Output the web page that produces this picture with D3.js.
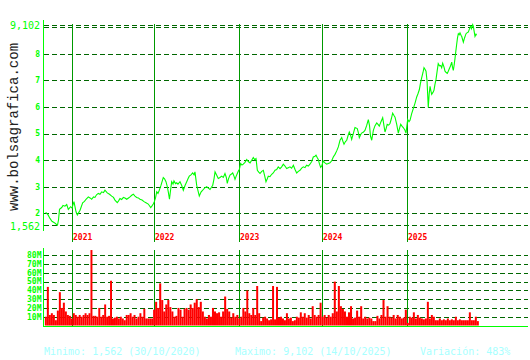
<!DOCTYPE html>
<html>
<head>
<meta charset="utf-8">
<script src="https://cdn.jsdelivr.net/npm/d3@7"></script>
<style>
  body { margin: 0; background: #fff; }
  svg { display: block; }
  text { font-family: "DejaVu Sans Mono", "Liberation Mono", monospace; }
</style>
</head>
<body>
<div id="chart"></div>
<script>
// price series (decimal year, value)
var priceYears = [
  2020.686, 2020.713, 2020.737, 2020.761, 2020.785, 2020.809, 2020.827, 2020.839, 2020.851, 2020.877,
  2020.893, 2020.916, 2020.937, 2020.956, 2020.984, 2021.000,
  2021.024, 2021.049, 2021.065, 2021.098, 2021.130, 2021.152, 2021.171, 2021.199, 2021.220, 2021.240,
  2021.262, 2021.280, 2021.299, 2021.321, 2021.341, 2021.362, 2021.384, 2021.402, 2021.430, 2021.457,
  2021.484, 2021.506, 2021.524, 2021.552, 2021.570, 2021.585, 2021.606, 2021.626, 2021.646, 2021.667,
  2021.689, 2021.707, 2021.728, 2021.748, 2021.768, 2021.789, 2021.809, 2021.829, 2021.854, 2021.878,
  2021.902, 2021.930, 2021.960, 2021.976, 2021.991,
  2022.004, 2022.018, 2022.032, 2022.047, 2022.062, 2022.082, 2022.109, 2022.124, 2022.141, 2022.157,
  2022.168, 2022.182, 2022.194, 2022.208, 2022.224, 2022.235, 2022.253, 2022.267, 2022.282, 2022.306,
  2022.326, 2022.345, 2022.365, 2022.385, 2022.400, 2022.415, 2022.435, 2022.455, 2022.471, 2022.482,
  2022.502, 2022.518, 2022.533, 2022.553, 2022.573, 2022.594, 2022.620, 2022.639, 2022.659, 2022.676,
  2022.691, 2022.706, 2022.718, 2022.735, 2022.756, 2022.776, 2022.796, 2022.815, 2022.835, 2022.851,
  2022.862, 2022.876, 2022.894, 2022.912, 2022.926, 2022.941, 2022.953, 2022.967, 2022.980, 2022.994,
  2023.004, 2023.020, 2023.036, 2023.052, 2023.072, 2023.093, 2023.112, 2023.133, 2023.153, 2023.172,
  2023.189, 2023.205, 2023.221, 2023.238, 2023.253, 2023.274, 2023.293, 2023.310, 2023.325, 2023.341,
  2023.353, 2023.373, 2023.394, 2023.413, 2023.434, 2023.454, 2023.473, 2023.494, 2023.514, 2023.534,
  2023.554, 2023.574, 2023.594, 2023.614, 2023.634, 2023.655, 2023.675, 2023.695, 2023.715, 2023.735,
  2023.755, 2023.775, 2023.795, 2023.815, 2023.835, 2023.855, 2023.876, 2023.895, 2023.916, 2023.928,
  2023.942, 2023.955, 2023.970, 2023.984, 2023.996,
  2024.015, 2024.035, 2024.055, 2024.074, 2024.094, 2024.114, 2024.133, 2024.153, 2024.173, 2024.192,
  2024.212, 2024.232, 2024.247, 2024.259, 2024.276, 2024.291, 2024.306, 2024.321, 2024.335, 2024.349,
  2024.368, 2024.388, 2024.415, 2024.427, 2024.439, 2024.453, 2024.466, 2024.485, 2024.505, 2024.525,
  2024.545, 2024.559, 2024.571, 2024.585, 2024.604, 2024.624, 2024.644, 2024.659, 2024.674, 2024.694,
  2024.714, 2024.729, 2024.741, 2024.755, 2024.767, 2024.784, 2024.800, 2024.815, 2024.831, 2024.847,
  2024.859, 2024.879, 2024.898, 2024.912, 2024.926, 2024.941, 2024.956, 2024.973, 2024.988,
  2025.008, 2025.024, 2025.036, 2025.056, 2025.075, 2025.096, 2025.116, 2025.131, 2025.147, 2025.161,
  2025.175, 2025.191, 2025.203, 2025.215, 2025.227, 2025.239, 2025.248, 2025.254, 2025.265, 2025.275,
  2025.286, 2025.295, 2025.310, 2025.322, 2025.334, 2025.346, 2025.360, 2025.373, 2025.388, 2025.402,
  2025.414, 2025.426, 2025.442, 2025.454, 2025.468, 2025.481, 2025.493, 2025.505, 2025.520, 2025.534,
  2025.543, 2025.553, 2025.564, 2025.573, 2025.583, 2025.594, 2025.603, 2025.613, 2025.624, 2025.633,
  2025.645, 2025.653, 2025.663, 2025.673, 2025.687, 2025.705, 2025.719, 2025.732, 2025.747, 2025.761,
  2025.770, 2025.784, 2025.792, 2025.802, 2025.812, 2025.824, 2025.832
];
var priceValues = [
  2.04, 1.95, 1.81, 1.70, 1.66, 1.60, 1.562, 1.75, 2.15, 2.22,
  2.30, 2.27, 2.33, 2.15, 2.25, 2.20,
  2.44, 2.06, 1.94, 2.12, 2.40, 2.45, 2.53, 2.62, 2.58, 2.53,
  2.62, 2.60, 2.70, 2.75, 2.72, 2.81, 2.78, 2.87, 2.77, 2.72,
  2.65, 2.60, 2.50, 2.40, 2.48, 2.56, 2.52, 2.60, 2.58, 2.53,
  2.58, 2.62, 2.68, 2.72, 2.65, 2.60, 2.58, 2.53, 2.50, 2.44,
  2.40, 2.35, 2.22, 2.28, 2.35,
  2.44, 2.58, 2.81, 2.75, 2.87, 3.05, 3.35, 3.30, 3.19, 3.00,
  2.81, 2.53, 2.85, 3.19, 3.10, 3.22, 3.12, 3.15, 3.10, 3.19,
  3.05, 2.87, 3.05, 3.19, 3.30, 3.40, 3.45, 3.52, 3.45, 3.56,
  3.06, 2.85, 2.65, 2.80, 2.87, 2.95, 3.00, 2.95, 2.90, 2.98,
  3.06, 3.30, 3.56, 3.45, 3.31, 3.35, 3.40, 3.35, 3.50, 3.35,
  3.13, 3.30, 3.44, 3.48, 3.52, 3.40, 3.28, 3.40, 3.50, 3.60,
  3.65, 3.88, 3.82, 3.85, 3.92, 4.03, 3.95, 3.90, 4.00, 4.10,
  4.02, 4.06, 3.62, 3.55, 3.50, 3.58, 3.62, 3.40, 3.19, 3.30,
  3.40, 3.38, 3.47, 3.52, 3.62, 3.65, 3.75, 3.68, 3.75, 3.85,
  3.78, 3.69, 3.72, 3.75, 3.70, 3.81, 3.65, 3.52, 3.58, 3.62,
  3.70, 3.75, 3.72, 3.81, 3.78, 3.85, 3.95, 4.12, 4.15, 4.19,
  4.10, 4.03, 3.85, 3.73, 3.78,
  3.97, 3.90, 3.85, 3.88, 3.90, 3.98, 4.12, 4.22, 4.35, 4.50,
  4.75, 4.85, 4.70, 4.60, 4.70, 4.75, 4.92, 5.06, 4.95, 4.78,
  5.00, 5.23, 5.19, 5.05, 4.85, 4.95, 5.02, 5.05, 5.12, 5.30,
  5.53, 5.30, 4.90, 4.75, 5.12, 5.30, 5.40, 5.35, 5.28, 5.45,
  5.60, 5.30, 5.06, 5.20, 5.35, 5.32, 5.38, 5.55, 5.77, 5.68,
  5.62, 5.35, 5.02, 5.20, 5.35, 5.28, 5.23, 5.15, 5.02,
  5.53, 5.45, 5.50, 5.75, 5.94, 6.15, 6.38, 6.50, 6.65, 6.90,
  7.10, 7.30, 7.48, 7.42, 7.35, 7.00, 6.40, 5.98, 6.50, 6.78,
  6.60, 6.48, 6.55, 6.63, 6.85, 7.03, 7.35, 7.63, 7.55, 7.56,
  7.48, 7.65, 7.50, 7.35, 7.30, 7.27, 7.35, 7.44, 7.55, 7.69,
  7.50, 7.38, 7.60, 7.82, 8.10, 8.38, 8.60, 8.76, 8.72, 8.79,
  8.70, 8.66, 8.55, 8.44, 8.60, 8.76, 8.80, 8.82, 8.95, 9.04,
  8.95, 9.102, 9.04, 8.85, 8.66, 8.74, 8.70
];

// volume, millions, one bar per period starting at volStart
var volStart = 2020.676;
var volStep = 0.02388;
var volumes = [
  10, 44, 12, 14, 12, 6, 17, 38, 20, 26, 16, 12, 11, 8, 14, 12, 10, 12, 10, 12,
  14, 12, 14, 86, 11, 11, 10, 20, 10, 12, 24, 10, 11, 51, 8, 9, 10, 8, 10, 8,
  6, 12, 12, 14, 10, 12, 8, 10, 14, 10, 19, 8, 8, 8, 8, 18, 27, 20, 48, 29,
  16, 24, 29, 21, 16, 10, 11, 20, 18, 10, 19, 20,
  18, 24, 20, 26, 30, 21, 27, 16, 10, 8, 12, 10, 20, 16, 14, 15, 10, 16, 33, 19,
  16, 9, 14, 10, 12, 8, 10, 20, 16, 40, 14, 12, 20, 12, 45, 14, 5, 9, 10, 8,
  6, 7, 45, 7, 44, 9, 10, 8, 6, 14, 8, 9, 5, 6, 10, 9, 15, 10, 14, 9,
  12, 8, 22, 12, 10, 12, 26, 10, 12, 9, 12, 10,
  14, 50, 16, 45, 22, 19, 16, 10, 15, 22, 8, 9, 17, 10, 22, 8, 10, 8, 9, 8,
  5, 5, 11, 8, 12, 29, 10, 22, 10, 9, 12, 8, 12, 10, 8, 9, 18, 3, 10, 9,
  15, 8, 12, 9, 8, 7, 8, 27, 8, 12, 10, 6, 6, 8, 6, 7, 6, 8, 6, 7,
  6, 10, 6, 7, 6, 6, 6, 6, 15, 6, 6, 10, 5
];

var years = [2021, 2022, 2023, 2024, 2025];
var priceTicks = [2, 3, 4, 5, 6, 7, 8, 9];
var volTicks = [10, 20, 30, 40, 50, 60, 70, 80];
var minDate = "30/10/2020", maxDate = "14/10/2025";

var W = 530, H = 360;
var green = "#00ff00", darkGreen = "#006600", yearGreen = "#009900";

var svg = d3.select("#chart").append("svg")
    .attr("width", W)
    .attr("height", H);

// x: year lines are not evenly spaced in the picture
var x = d3.scaleLinear()
    .domain([2020.654, 2021, 2022, 2023, 2024, 2025, 2026.445])
    .range([43, 72, 154, 239, 322, 407, 528]);

var priceMin = d3.min(priceValues), priceMax = d3.max(priceValues);
var y = d3.scaleLinear().domain([priceMin, priceMax]).range([225, 24.6]);
var yv = d3.scaleLinear().domain([0, 80]).range([325.5, 255.3]);

var fmt = function(v) { return d3.format(".3f")(v).replace(".", ","); };

// watermark
svg.append("text")
    .attr("transform", "translate(17.5,211) rotate(-90)")
    .attr("fill", "#222")
    .style("font-family", "'Liberation Mono', monospace")
    .style("font-size", "14px")
    .text("www.bolsagrafica.com");

// ---- price panel ----
svg.selectAll("line.g")
    .data(priceTicks.concat([priceMin, priceMax]))
  .enter().append("line")
    .attr("x1", 44).attr("x2", 528)
    .attr("y1", function(d) { return Math.round(y(d)) + 0.5; })
    .attr("y2", function(d) { return Math.round(y(d)) + 0.5; })
    .attr("stroke", darkGreen)
    .attr("stroke-dasharray", "5,3");

svg.selectAll("line.year")
    .data(years)
  .enter().append("line")
    .attr("x1", function(d) { return Math.round(x(d)) + 0.5; })
    .attr("x2", function(d) { return Math.round(x(d)) + 0.5; })
    .attr("y1", 24).attr("y2", 242)
    .attr("stroke", yearGreen);

svg.selectAll("text.year")
    .data(years)
  .enter().append("text")
    .attr("x", function(d) { return x(d) + 1; })
    .attr("y", 239.5)
    .attr("fill", "#ff0000")
    .style("font-size", "8px")
    .style("font-weight", "bold")
    .text(function(d) { return d; });

svg.append("line")
    .attr("x1", 43.5).attr("x2", 43.5)
    .attr("y1", 20).attr("y2", 231)
    .attr("stroke", green);

svg.selectAll("text.ptick")
    .data(priceTicks.filter(function(d) { return d < 9; }))
  .enter().append("text")
    .attr("x", 40)
    .attr("y", function(d) { return y(d); })
    .attr("dy", "0.35em")
    .attr("text-anchor", "end")
    .attr("fill", green)
    .style("font-size", "8px")
    .style("font-weight", "bold")
    .text(function(d) { return d; });

svg.selectAll("text.pminmax")
    .data([priceMin, priceMax])
  .enter().append("text")
    .attr("x", 40)
    .attr("y", function(d) { return y(d); })
    .attr("dy", "0.45em")
    .attr("text-anchor", "end")
    .attr("fill", green)
    .style("font-size", "10px")
    .text(function(d) { return fmt(d); });

var line = d3.line()
    .x(function(d, i) { return x(priceYears[i]); })
    .y(function(d) { return y(d); });

svg.append("path")
    .datum(priceValues)
    .attr("d", line)
    .attr("fill", "none")
    .attr("stroke", green)
    .attr("stroke-width", 1.1);

// ---- volume panel ----
svg.selectAll("line.vg")
    .data(volTicks)
  .enter().append("line")
    .attr("x1", 44).attr("x2", 528)
    .attr("y1", function(d) { return Math.round(yv(d)) + 0.5; })
    .attr("y2", function(d) { return Math.round(yv(d)) + 0.5; })
    .attr("stroke", darkGreen)
    .attr("stroke-dasharray", "5,3");

svg.selectAll("line.vyear")
    .data(years)
  .enter().append("line")
    .attr("x1", function(d) { return Math.round(x(d)) + 0.5; })
    .attr("x2", function(d) { return Math.round(x(d)) + 0.5; })
    .attr("y1", 250).attr("y2", 326)
    .attr("stroke", yearGreen);

svg.selectAll("rect.vol")
    .data(volumes)
  .enter().append("rect")
    .attr("x", function(d, i) { return x(volStart + i * volStep); })
    .attr("width", function(d, i) { return x(volStart + (i + 1) * volStep) - x(volStart + i * volStep); })
    .attr("y", function(d) { return yv(d); })
    .attr("height", function(d) { return yv(0) - yv(d); })
    .attr("fill", "#ff0000");

svg.append("line")
    .attr("x1", 43.5).attr("x2", 43.5)
    .attr("y1", 248).attr("y2", 327)
    .attr("stroke", green);
svg.append("line")
    .attr("x1", 43).attr("x2", 528)
    .attr("y1", 326.5).attr("y2", 326.5)
    .attr("stroke", green);

svg.selectAll("text.vtick")
    .data(volTicks)
  .enter().append("text")
    .attr("x", 41.5)
    .attr("y", function(d) { return yv(d); })
    .attr("dy", "0.35em")
    .attr("text-anchor", "end")
    .attr("fill", green)
    .style("font-size", "8px")
    .style("font-weight", "bold")
    .text(function(d) { return d + "M"; });

// footer
var variation = Math.round((priceMax / priceMin - 1) * 100);
var footer = [
  {x: 44, t: "Minimo: " + fmt(priceMin) + " (" + minDate + ")"},
  {x: 235, t: "Maximo: " + fmt(priceMax) + " (" + maxDate + ")"},
  {x: 420, t: "Variación: " + variation + "%"}
];
svg.selectAll("text.foot")
    .data(footer)
  .enter().append("text")
    .attr("x", function(d) { return d.x; })
    .attr("y", 355)
    .attr("fill", "#a8ffff")
    .style("font-size", "10px")
    .text(function(d) { return d.t; });
</script>
</body>
</html>
